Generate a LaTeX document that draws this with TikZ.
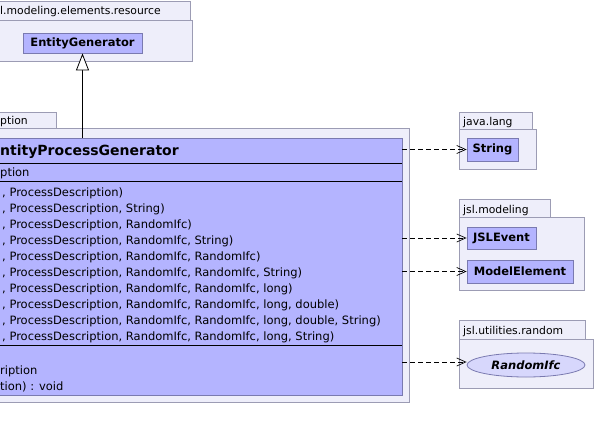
\documentclass[tikz,border=0pt]{standalone}
\usepackage{fontspec}
\setmainfont{DejaVu Sans}
\usepackage{xcolor}
\usepackage{tikz}
\usetikzlibrary{shapes.geometric}
\usetikzlibrary{arrows.meta}
\definecolor{pkgfill}{HTML}{EEEEFA}
\definecolor{pkgline}{HTML}{9C9CB4}
\definecolor{clsfill}{HTML}{B4B4FF}
\definecolor{clsline}{HTML}{7A7AB0}

\begin{document}
\begin{tikzpicture}[x=1pt,y=-1pt,
	pkg/.style={draw=pkgline,fill=pkgfill,line width=0.8pt},
	cls/.style={draw=clsline,fill=clsfill,line width=0.8pt,inner sep=0pt,font=\bfseries\fontsize{11.5}{13}\selectfont},
	tab/.style={anchor=base west,inner sep=0pt,font=\fontsize{10.8}{12}\selectfont},
	txt/.style={anchor=base west,inner sep=0pt,font=\fontsize{11.5}{13}\selectfont},
	dep/.style={line width=0.7pt,dash pattern=on 5pt off 3pt,-{Straight Barb[length=9pt,width=8pt]}}]
	\pgfmathsetmacro{\rowStep}{16.1}
	\useasboundingbox (0,0) rectangle (595,439);
	\fill[white] (0,0) rectangle (595,439);
	
	% Package jsl.modeling.elements.resource
	\draw[pkg] (-5,1.5) rectangle (190,20);
	\draw[pkg] (-5,20) rectangle (192,61);
	\node[tab] at (0,15) {l.modeling.elements.resource};
	\node[cls,minimum width=119pt,minimum height=20pt] (entgen) at (82.5,43) {EntityGenerator};
	
	% Package of the class
	\draw[pkg] (-5,112) rectangle (56,128);
	\draw[pkg] (-5,128) rectangle (409,402);
	\node[tab] at (0,124) {ption};
	\node[draw=clsline,fill=clsfill,line width=0.8pt,minimum width=412pt,minimum height=257pt,inner sep=0pt] (epg) at (196,266.5) {};
	\node[txt,font=\bfseries\fontsize{14}{16}\selectfont] at (0,155) {ntityProcessGenerator};
	\draw[line width=0.8pt] (0,163) -- (epg.east |- 0,163);
	\node[txt] at (0,176) {ption};
	\draw[line width=0.8pt] (0,181) -- (epg.east |- 0,181);
	\foreach \args [count=\i, evaluate=\i as \rowY using 196+(\i-1)*\rowStep] in {{ProcessDescription)},
			{ProcessDescription, String)},
			{ProcessDescription, RandomIfc)},
			{ProcessDescription, RandomIfc, String)},
			{ProcessDescription, RandomIfc, RandomIfc)},
			{ProcessDescription, RandomIfc, RandomIfc, String)},
			{ProcessDescription, RandomIfc, RandomIfc, long)},
			{ProcessDescription, RandomIfc, RandomIfc, long, double)},
			{ProcessDescription, RandomIfc, RandomIfc, long, double, String)},
			{ProcessDescription, RandomIfc, RandomIfc, long, String)}} {
		\node[txt] at (2,\rowY) {, \args};
	}
	\draw[line width=0.8pt] (0,345) -- (epg.east |- 0,345);
	\node[txt] at (0,374) {ription};
	\node[txt] at (0,390) {tion) : void};
	
	% Package java.lang
	\draw[pkg] (459,112) rectangle (532,129);
	\draw[pkg] (459,129) rectangle (536,169);
	\node[tab] at (463,125) {java.lang};
	\node[cls,minimum width=51pt,minimum height=23pt] (string) at (492.5,149.5) {String};
	
	% Package jsl.modeling
	\draw[pkg] (459,199) rectangle (550,217);
	\draw[pkg] (459,217) rectangle (584,290);
	\node[tab] at (463,213) {jsl.modeling};
	\node[cls,minimum width=69pt,minimum height=22pt] (jslevent) at (501.5,238) {JSLEvent};
	\node[cls,minimum width=106pt,minimum height=23pt] (modelel) at (520,271.5) {ModelElement};
	
	% Package jsl.utilities.random
	\draw[pkg] (459,320) rectangle (585,339);
	\draw[pkg] (459,339) rectangle (593,388);
	\node[tab] at (463,334) {jsl.utilities.random};
	\node[cls,ellipse,fill=pkgfill!60!clsfill,minimum width=118pt,minimum height=24pt,font=\bfseries\itshape\fontsize{11.5}{13}\selectfont] (randomifc) at (526,365) {RandomIfc};
	
	% Relations
	\draw[line width=0.8pt,-{Triangle[fill=white,length=17pt,width=13pt]}] (epg.north -| entgen) -- (entgen.south);
	\draw[dep] (epg.east |- string) -- (string.west);
	\draw[dep] (epg.east |- jslevent) -- (jslevent.west);
	\draw[dep] (epg.east |- modelel) -- (modelel.west);
	\draw[dep] (epg.east |- 0,362) -- (randomifc.west |- 0,362);
\end{tikzpicture}
\end{document}
